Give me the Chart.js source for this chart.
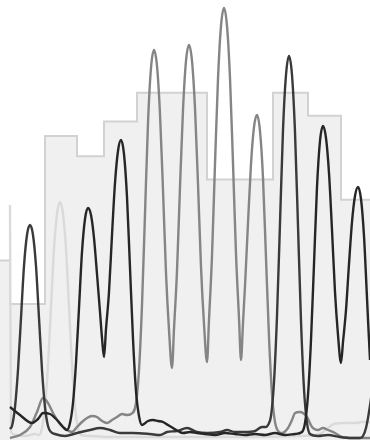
<!DOCTYPE html>
<html>
<head>
<meta charset="utf-8">
<script src="https://cdn.jsdelivr.net/npm/chart.js@4.4.1/dist/chart.umd.min.js"></script>
<style>
  html, body { margin: 0; padding: 0; background: #ffffff; }
  #wrap { width: 370px; height: 440px; }
</style>
</head>
<body>
<div id="wrap"><canvas id="trace" width="370" height="440"></canvas></div>
<script>
// Sanger chromatogram window: four dye channels over per-base quality steps.

// channel G (darkest)
const scansG = [10,20,32,38,43,50,57,63,67,70,73,76,79,82,85,88,91,94,97,100,102,104,106,109,112,115,118,121,124,127,130,133,136,139,142,148,153,158,163,168,173,178,183,190,197,205,215,225,235,245,255,265,275,285,295,302,305,308,311,314,317,320,323,326,329,332,335,338,341,343,346,349,352,355,358,361,364,367,370,373,376];
const signalG = [330,250,170,210,270,260,200,130,100,170,370,770,1320,1880,2210,2320,2250,2020,1660,1280,1020,830,1110,1480,2050,2570,2890,3000,2860,2430,1720,1010,490,240,150,190,200,190,180,150,120,90,70,80,70,60,50,70,60,50,60,50,70,50,60,80,170,450,1000,1760,2530,2990,3140,3020,2670,2100,1480,1050,770,980,1300,1760,2180,2440,2530,2410,2040,1420,800,360,130];

// channel C (medium grey)
const scansC = [10,20,30,37,43,48,53,60,67,72,77,82,87,92,97,102,107,112,117,122,127,131,136,139,142,145,148,151,154,157,160,163,166,169,172,174,177,180,183,186,189,192,195,198,201,204,207,209,212,215,218,221,224,227,230,233,236,239,241,243,245,248,251,254,257,260,263,266,269,272,275,279,282,288,292,295,300,303,307,312,318,323,328,335,342,352,362,372];
const signalC = [20,50,130,280,420,370,270,160,100,80,130,180,220,240,230,190,170,200,230,260,250,260,370,700,1350,2260,3170,3720,3900,3740,3260,2500,1670,1100,720,1110,1690,2530,3300,3790,3950,3790,3320,2560,1730,1160,780,1200,1840,2760,3610,4140,4320,4140,3620,2770,1860,1220,800,1170,1540,2170,2760,3130,3250,3090,2620,1820,1030,460,180,80,70,120,200,270,280,270,230,130,100,120,100,70,30,20,20,20];

// channel T (dark grey)
const scansT = [10,12,15,18,21,24,27,30,33,36,39,42,45,48,51,55,65,77,90,100,110,120,133,150,160,167,177,187,197,207,220,227,235,245,255,262,266,268,271,274,277,280,283,286,289,292,295,298,301,304,307,310,318,328,340,352,360,363,366,369,372,376];
const signalT = [110,140,330,700,1220,1740,2050,2150,2050,1740,1220,700,330,140,80,60,40,70,100,120,100,70,70,60,50,80,90,120,80,70,80,100,80,80,90,130,130,150,240,580,1240,2170,3100,3650,3840,3650,3080,2140,1190,510,170,60,40,50,30,20,20,40,120,280,500,1000];

// channel A (light grey)
const scansA = [10,11,16,25,35,39,42,45,48,51,54,57,60,63,66,69,72,75,78,81,90,110,150,200,250,300,320,328,334,345,356,362,372];
const signalA = [2350,80,50,40,60,50,120,330,750,1330,1910,2260,2380,2260,1910,1330,750,330,120,50,40,30,30,30,30,40,60,120,160,170,170,180,180];

// per-base quality: base boundaries (scan) and Phred value of each base
const baseEdges = [-5,10,45,77,104,137,172,207,240,273,308,341,380];
const baseQuality = [31,23.5,52.5,49,55,60,60,45,45,60,56,41.5];

function pairUp(xs, ys) {
  return xs.map((x, i) => ({ x: x, y: ys[i] }));
}

// quality outline: flat top over each base, vertical jump at each boundary
const qualityPoints = [];
baseQuality.forEach((q, i) => {
  qualityPoints.push({ x: baseEdges[i], y: q });
  qualityPoints.push({ x: baseEdges[i + 1], y: q });
});

function traceSet(label, xs, ys, colour, order) {
  return {
    label: label,
    data: pairUp(xs, ys),
    borderColor: colour,
    borderWidth: 2.4,
    pointRadius: 0,
    fill: false,
    cubicInterpolationMode: 'monotone',
    yAxisID: 'y',
    order: order
  };
}

new Chart(document.getElementById('trace'), {
  type: 'line',
  data: {
    datasets: [
      {
        label: 'Quality',
        data: qualityPoints,
        borderColor: '#d2d2d2',
        backgroundColor: '#f0f0f0',
        borderWidth: 2,
        pointRadius: 0,
        tension: 0,
        fill: 'origin',
        yAxisID: 'q',
        order: 10
      },
      traceSet('A', scansA, signalA, '#dadada', 5),
      traceSet('C', scansC, signalC, '#858585', 4),
      traceSet('T', scansT, signalT, '#3a3a3a', 3),
      traceSet('G', scansG, signalG, '#262626', 2)
    ]
  },
  options: {
    responsive: false,
    devicePixelRatio: 1,
    animation: false,
    layout: { padding: 0 },
    plugins: { legend: { display: false }, tooltip: { enabled: false } },
    scales: {
      x: { type: 'linear', min: 0, max: 370, display: false },
      y: { type: 'linear', min: 0, max: 4400, display: false },
      q: { type: 'linear', min: 0, max: 76, display: false }
    }
  }
});
</script>
</body>
</html>
